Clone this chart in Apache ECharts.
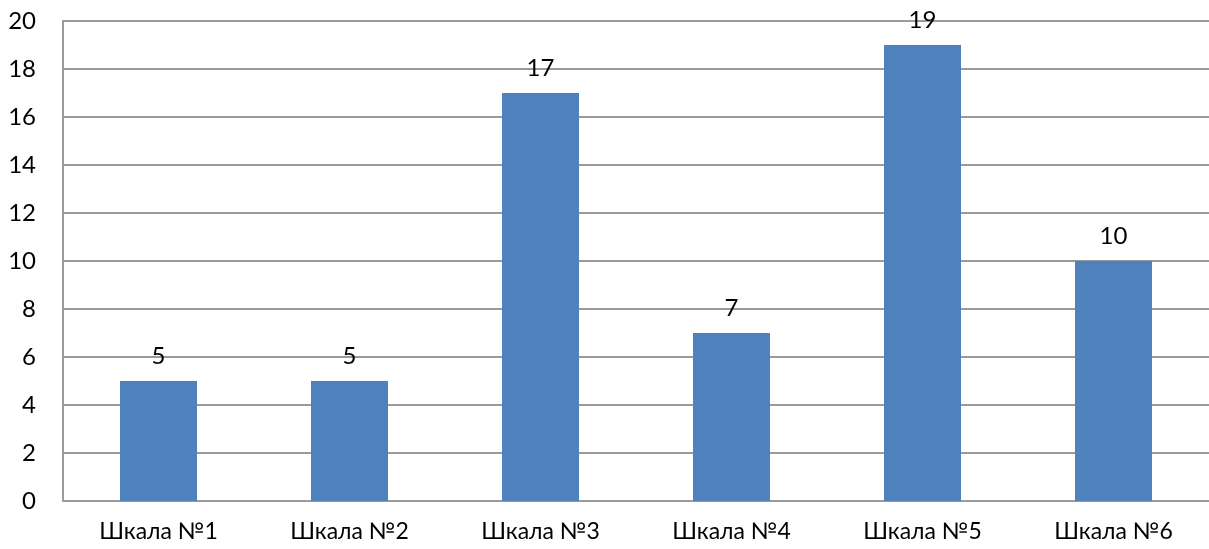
<!DOCTYPE html>
<html>
<head>
<meta charset="utf-8">
<script src="https://cdn.jsdelivr.net/npm/echarts@6/dist/echarts.min.js"></script>
<style>
  html, body { margin: 0; padding: 0; background: #fff; }
  #chart { width: 1209px; height: 549px; }
</style>
</head>
<body>
<div id="chart"></div>
<script>
const categories = ['Шкала №1', 'Шкала №2', 'Шкала №3', 'Шкала №4', 'Шкала №5', 'Шкала №6'];
const values = [5, 5, 17, 7, 19, 10];

const font = 'Lato, "Liberation Sans", sans-serif';
const myChart = echarts.init(document.getElementById('chart'));

const option = {
  animation: false,
  grid: {
    left: 63,
    top: 21,
    width: 1150,
    height: 480,
    containLabel: false,
  },
  xAxis: {
    type: 'category',
    data: categories,
    axisLine: { show: true, lineStyle: { color: '#9a9a9a', width: 2 } },
    axisTick: { show: false },
    axisLabel: { color: '#000', fontSize: 23, fontFamily: font, margin: 19 },
  },
  yAxis: {
    type: 'value',
    min: 0,
    max: 20,
    interval: 2,
    axisLine: { show: true, lineStyle: { color: '#9a9a9a', width: 2 } },
    axisTick: { show: false },
    axisLabel: { color: '#000', fontSize: 24, fontFamily: font, margin: 27 },
    splitLine: { lineStyle: { color: '#9a9a9a', width: 2 } },
  },
  series: [{
    type: 'bar',
    data: values,
    barWidth: 77,
    itemStyle: { color: '#4f81bd' },
    label: {
      show: true,
      position: 'top',
      distance: 13,
      color: '#000',
      fontSize: 24,
      fontFamily: font,
    },
  }],
};

myChart.setOption(option);
window.addEventListener('resize', myChart.resize);
</script>
</body>
</html>
